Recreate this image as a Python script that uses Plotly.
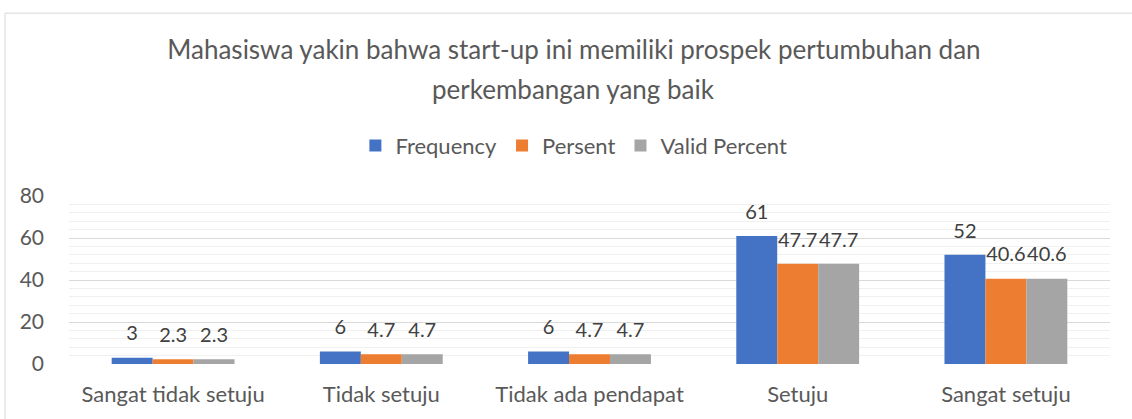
import plotly.graph_objects as go

categories = ["Sangat tidak setuju", "Tidak setuju", "Tidak ada pendapat", "Setuju", "Sangat setuju"]
frequency = [3, 6, 6, 61, 52]
persent = [2.3, 4.7, 4.7, 47.7, 40.6]
valid_percent = [2.3, 4.7, 4.7, 47.7, 40.6]
series_names = ["Frequency", "Persent", "Valid Percent"]
colors = ["#4472C4", "#ED7D31", "#A5A5A5"]

FONT = "Lato"
W, H = 1132, 419
ML, MR, MT, MB = 69, 22, 196, 53
pw = W - ML - MR
ph = H - MT - MB
bargap = 0.41
bw = (1 - bargap) / 3

xpos = list(range(len(categories)))
fig = go.Figure()
series = [frequency, persent, valid_percent]
for k, (name, vals, c) in enumerate(zip(series_names, series, colors)):
    fig.add_trace(go.Bar(x=xpos, y=vals, name=name, marker=dict(color=c, line=dict(width=0)),
                         hoverinfo="skip"))
for k, (name, vals) in enumerate(zip(series_names, series)):
    fig.add_trace(go.Scatter(
        x=[i + (k - 1) * bw for i in xpos], y=vals, mode="markers+text",
        text=[("%g" % v) for v in vals], textposition="top center",
        textfont=dict(family=FONT, size=20, color="#404040"),
        marker=dict(size=18, opacity=0), showlegend=False, cliponaxis=False,
        hoverinfo="skip"))

fig.update_layout(
    width=W, height=H, margin=dict(l=ML, r=MR, t=MT, b=MB),
    paper_bgcolor="white", plot_bgcolor="white",
    barmode="group", bargap=bargap, bargroupgap=0,
    font=dict(family=FONT, color="#595959"),
    title=dict(text="Mahasiswa yakin bahwa start-up ini memiliki prospek pertumbuhan dan",
               x=0.507, xanchor="center", xref="container",
               y=1 - 50 / H, yanchor="middle", yref="container",
               font=dict(family=FONT, size=26, color="#595959")),
    legend=dict(orientation="h", x=0.485, xanchor="center", y=(H - MB - 145) / ph, yanchor="middle",
                font=dict(family=FONT, size=22, color="#595959"), traceorder="normal"),
    showlegend=True,
)
fig.add_annotation(text="perkembangan yang baik", xref="paper", yref="paper",
                   x=(573 - ML) / pw, y=(H - MB - 88) / ph, xanchor="center", yanchor="middle",
                   showarrow=False, font=dict(family=FONT, size=26, color="#595959"))
fig.update_xaxes(tickmode="array", tickvals=xpos, ticktext=categories, range=[-0.5, len(categories) - 0.5],
                 showgrid=False, zeroline=False, showline=False, ticks="",
                 tickfont=dict(family=FONT, size=22, color="#595959"), ticklabelstandoff=15)
fig.update_yaxes(range=[0, 80], dtick=20, showgrid=True, gridcolor="#D9D9D9", gridwidth=1,
                 zeroline=False, showline=False, ticks="",
                 tickfont=dict(family=FONT, size=21, color="#595959"), ticklabelstandoff=24,
                 minor=dict(dtick=4, showgrid=True, gridcolor="#F0F0F0", gridwidth=1))
fig.add_shape(type="rect", xref="paper", yref="paper",
              x0=(5 - ML) / pw, x1=(W + 20 - ML) / pw, y0=(H - MB - H - 20) / ph, y1=(H - MB - 11) / ph,
              line=dict(color="#D9D9D9", width=1), fillcolor="rgba(0,0,0,0)", layer="below")
fig.write_html("out.html", config={"displayModeBar": False},
               post_script="document.body.style.margin='0';")
